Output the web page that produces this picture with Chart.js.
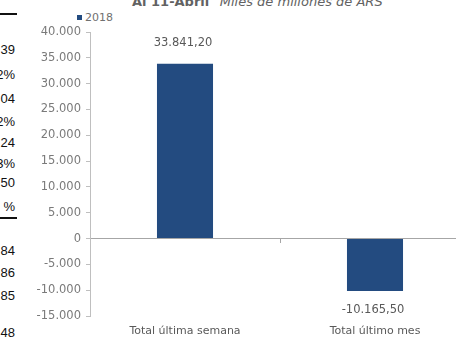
<!DOCTYPE html>
<html>
<head>
<meta charset="utf-8">
<script src="https://cdn.jsdelivr.net/npm/chart.js@4.4.1/dist/chart.umd.min.js"></script>
<style>
    html, body { margin: 0; padding: 0; background: #fff; overflow: hidden; width: 456px; height: 339px; }
    #wrap { position: absolute; left: 0; top: 0; width: 470px; height: 339px; }
    #title { position: absolute; top: -6px; left: 132px; font: bold 13px 'DejaVu Sans', sans-serif; color: #626262; white-space: nowrap; }
    #title i { font-weight: normal; margin-left: 6px; }
    #legend { position: absolute; left: 77px; top: 11px; font: 11px 'DejaVu Sans', sans-serif; color: #707070; white-space: nowrap; }
    #legend span { display: inline-block; width: 5px; height: 5px; background: #234b80; margin-right: 3px; vertical-align: 1px; }
    #side { position: absolute; left: -100px; top: 0; width: 115px; height: 339px; font: 13px 'Liberation Sans', sans-serif; color: #111; }
    #side div { position: absolute; right: 0; white-space: nowrap; line-height: 14px; }
    .rule { position: absolute; left: 100px; width: 17px; height: 2px; background: #111; }
</style>
</head>
<body>
<div id="side"></div>
<div id="title">Al 11-Abril <i>Miles de millones de ARS</i></div>
<div id="legend"><span></span>2018</div>
<div id="wrap"><canvas id="chart" width="470" height="339"></canvas></div>
<script>
(function(){
    // chart data
    const categories = ['Total última semana', 'Total último mes'];
    const values2018 = [33841.20, -10165.50];
    const seriesName = '2018';
    const yMin = -15000;
    const yMax = 40000;
    const yStep = 5000;

    // fragments of the neighbouring table that show at the left edge
    const sideTexts = ['39', '2%', '04', '2%', '24', '3%', '50', '%', '84', '86', '85', '48'];
    const sideTops = [43, 68, 92, 115, 136, 157, 176, 200, 244, 266, 289, 326];

    const side = document.getElementById('side');
    sideTexts.forEach((t, i) => {
        const d = document.createElement('div');
        d.textContent = t;
        d.style.top = sideTops[i] + 'px';
        side.appendChild(d);
    });
    [13, 217].forEach(y => {
        const r = document.createElement('div');
        r.className = 'rule';
        r.style.top = y + 'px';
        side.appendChild(r);
    });

    function thousands(v) {
        const s = String(Math.abs(Math.round(v))).replace(/\B(?=(\d{3})+(?!\d))/g, '.');
        return (v < 0 ? '-' : '') + s;
    }
    function decimal(v) {
        const parts = Math.abs(v).toFixed(2).split('.');
        return (v < 0 ? '-' : '') + thousands(Number(parts[0])) + ',' + parts[1];
    }

    // value labels above positive bars, below negative ones
    const valueLabels = {
        id: 'valueLabels',
        afterDatasetsDraw(chart) {
            const ctx = chart.ctx;
            const meta = chart.getDatasetMeta(0);
            ctx.save();
            ctx.font = '11.5px "DejaVu Sans"';
            ctx.fillStyle = '#595959';
            ctx.textAlign = 'center';
            ctx.textBaseline = 'middle';
            meta.data.forEach((bar, i) => {
                const v = chart.data.datasets[0].data[i];
                const y = v >= 0 ? bar.y - 21 : bar.y + 19;
                ctx.fillText(decimal(v), bar.x - 2, y);
            });
            ctx.restore();
        }
    };

    try {
        const ctx = document.getElementById('chart');
        window.__CHART = new Chart(ctx, {
            type: 'bar',
            data: {
                labels: categories,
                datasets: [{
                    label: seriesName,
                    data: values2018,
                    backgroundColor: '#234b80',
                    borderWidth: 0,
                    categoryPercentage: 1,
                    barPercentage: 0.295
                }]
            },
            options: {
                responsive: false,
                animation: false,
                layout: { padding: { top: 32, left: 0, right: 0, bottom: 0 } },
                plugins: {
                    legend: { display: false },
                    tooltip: { enabled: false }
                },
                scales: {
                    x: {
                        position: 'bottom',
                        offset: true,
                        grid: { display: false },
                        border: { display: false },
                        ticks: { color: '#595959', font: { family: 'DejaVu Sans', size: 11 }, padding: 1, maxRotation: 0 },
                        afterFit: s => { s.height = 23; }
                    },
                    x2: {
                        type: 'category',
                        labels: categories,
                        position: { y: 0 },
                        offset: true,
                        grid: { drawOnChartArea: false, drawTicks: true, tickLength: 4, color: '#a6a6a6', offset: true },
                        border: { color: '#a6a6a6' },
                        ticks: { display: false }
                    },
                    y: {
                        min: yMin,
                        max: yMax,
                        grid: { drawOnChartArea: false, drawTicks: true, tickLength: 4, color: '#bfbfbf' },
                        border: { color: '#bfbfbf' },
                        ticks: {
                            stepSize: yStep,
                            color: '#7a7a7a',
                            font: { family: 'DejaVu Sans', size: 11.5 },
                            padding: 5,
                            callback: v => thousands(v)
                        },
                        afterFit: s => { s.width = 90; }
                    }
                }
            },
            plugins: [valueLabels]
        });
    } catch (err) {
        console.error('chart init error', err);
    }
})();
</script>
</body>
</html>
